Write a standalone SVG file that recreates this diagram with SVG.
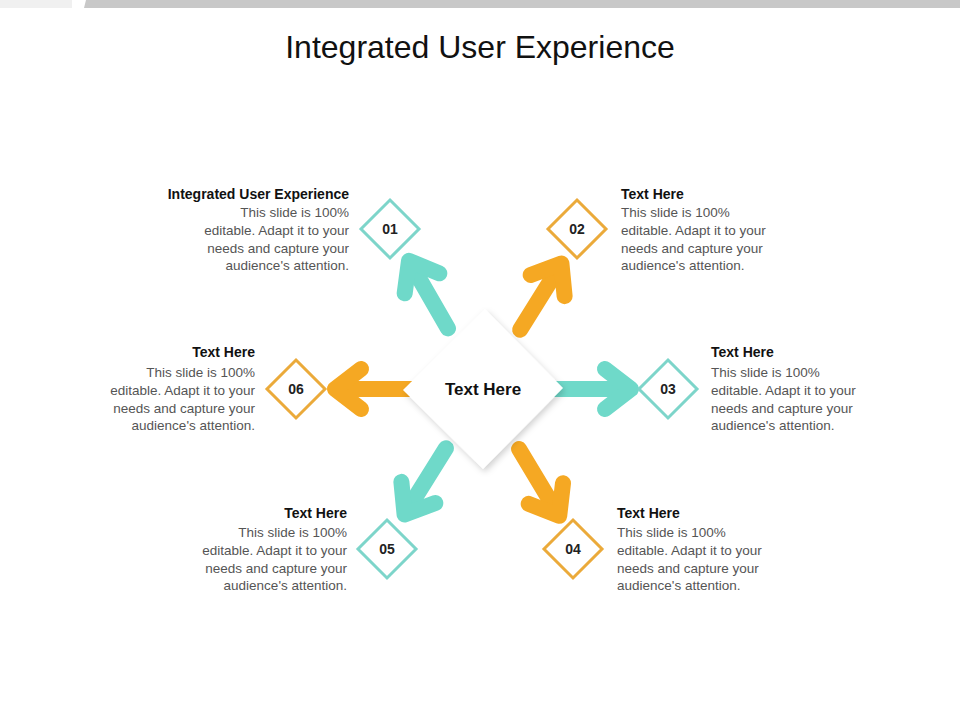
<svg xmlns="http://www.w3.org/2000/svg" width="960" height="720" viewBox="0 0 960 720">
<defs>
<style>
.t{font-family:"Liberation Sans",Arial,sans-serif}
.h{font-size:14px;font-weight:bold;fill:#111}
.b{font-size:13.5px;fill:#555}
.n{font-size:14px;font-weight:bold;fill:#222;text-anchor:middle}
.teal{stroke:#6fd9c9}
.org{stroke:#f5a823}
.arr{fill:none;stroke-width:16;stroke-linecap:round;stroke-linejoin:round}
.nd{fill:#fff;stroke-width:3}
.tealo{stroke:#7dd5ca}
.orgo{stroke:#ebaa3a}
</style>
<filter id="sh" x="-30%" y="-30%" width="160%" height="160%"><feDropShadow dx="2" dy="3" stdDeviation="3" flood-color="#000" flood-opacity="0.18"/></filter>
<g id="arrowShape"><path d="M70 0 H146"/><path d="M122 -20 L148 0 L122 20"/></g>
</defs>
<rect width="960" height="720" fill="#fff"/>
<rect x="0" y="0" width="72" height="8" fill="#f0f0f0"/>
<polygon points="86,0 960,0 960,8 84,8" fill="#c8c8c8"/>
<text class="t" x="480" y="58" font-size="32" text-anchor="middle" fill="#111">Integrated User Experience</text>
<g id="connectors">
<use href="#arrowShape" class="arr teal" transform="translate(483 389) rotate(-120)"/>
<use href="#arrowShape" class="arr org" transform="translate(483 389) rotate(-58)"/>
<use href="#arrowShape" class="arr teal" transform="translate(483 389)"/>
<use href="#arrowShape" class="arr org" transform="translate(483 389) rotate(59)"/>
<use href="#arrowShape" class="arr teal" transform="translate(483 389) rotate(122)"/>
<use href="#arrowShape" class="arr org" transform="translate(483 389) rotate(180)"/>
</g>
<g id="center">
<polygon points="485,309 563,388 483,469 403,390" fill="#fff" filter="url(#sh)"/>
<text class="t" x="483" y="395" font-size="17" font-weight="bold" text-anchor="middle" fill="#111">Text Here</text>
</g>
<g id="n01">
<polygon class="nd tealo" points="390,200 419,229 390,258 361,229"/>
<text class="t n" x="390" y="234">01</text>
<text class="t h" x="349" y="199" text-anchor="end">Integrated User Experience</text>
<text class="t b" text-anchor="end"><tspan x="349" y="217">This slide is 100%</tspan><tspan x="349" y="235">editable. Adapt it to your</tspan><tspan x="349" y="253">needs and capture your</tspan><tspan x="349" y="270">audience's attention.</tspan></text>
</g>
<g id="n02">
<polygon class="nd orgo" points="577,200 606,229 577,258 548,229"/>
<text class="t n" x="577" y="234">02</text>
<text class="t h" x="621" y="199">Text Here</text>
<text class="t b"><tspan x="621" y="217">This slide is 100%</tspan><tspan x="621" y="235">editable. Adapt it to your</tspan><tspan x="621" y="253">needs and capture your</tspan><tspan x="621" y="270">audience's attention.</tspan></text>
</g>
<g id="n03">
<polygon class="nd tealo" points="668,360 697,389 668,418 639,389"/>
<text class="t n" x="668" y="394">03</text>
<text class="t h" x="711" y="357">Text Here</text>
<text class="t b"><tspan x="711" y="377">This slide is 100%</tspan><tspan x="711" y="395">editable. Adapt it to your</tspan><tspan x="711" y="413">needs and capture your</tspan><tspan x="711" y="430">audience's attention.</tspan></text>
</g>
<g id="n04">
<polygon class="nd orgo" points="573,520 602,549 573,578 544,549"/>
<text class="t n" x="573" y="554">04</text>
<text class="t h" x="617" y="518">Text Here</text>
<text class="t b"><tspan x="617" y="537">This slide is 100%</tspan><tspan x="617" y="555">editable. Adapt it to your</tspan><tspan x="617" y="573">needs and capture your</tspan><tspan x="617" y="590">audience's attention.</tspan></text>
</g>
<g id="n05">
<polygon class="nd tealo" points="387,520 416,549 387,578 358,549"/>
<text class="t n" x="387" y="554">05</text>
<text class="t h" x="347" y="518" text-anchor="end">Text Here</text>
<text class="t b" text-anchor="end"><tspan x="347" y="537">This slide is 100%</tspan><tspan x="347" y="555">editable. Adapt it to your</tspan><tspan x="347" y="573">needs and capture your</tspan><tspan x="347" y="590">audience's attention.</tspan></text>
</g>
<g id="n06">
<polygon class="nd orgo" points="296,360 325,389 296,418 267,389"/>
<text class="t n" x="296" y="394">06</text>
<text class="t h" x="255" y="357" text-anchor="end">Text Here</text>
<text class="t b" text-anchor="end"><tspan x="255" y="377">This slide is 100%</tspan><tspan x="255" y="395">editable. Adapt it to your</tspan><tspan x="255" y="413">needs and capture your</tspan><tspan x="255" y="430">audience's attention.</tspan></text>
</g>
</svg>
